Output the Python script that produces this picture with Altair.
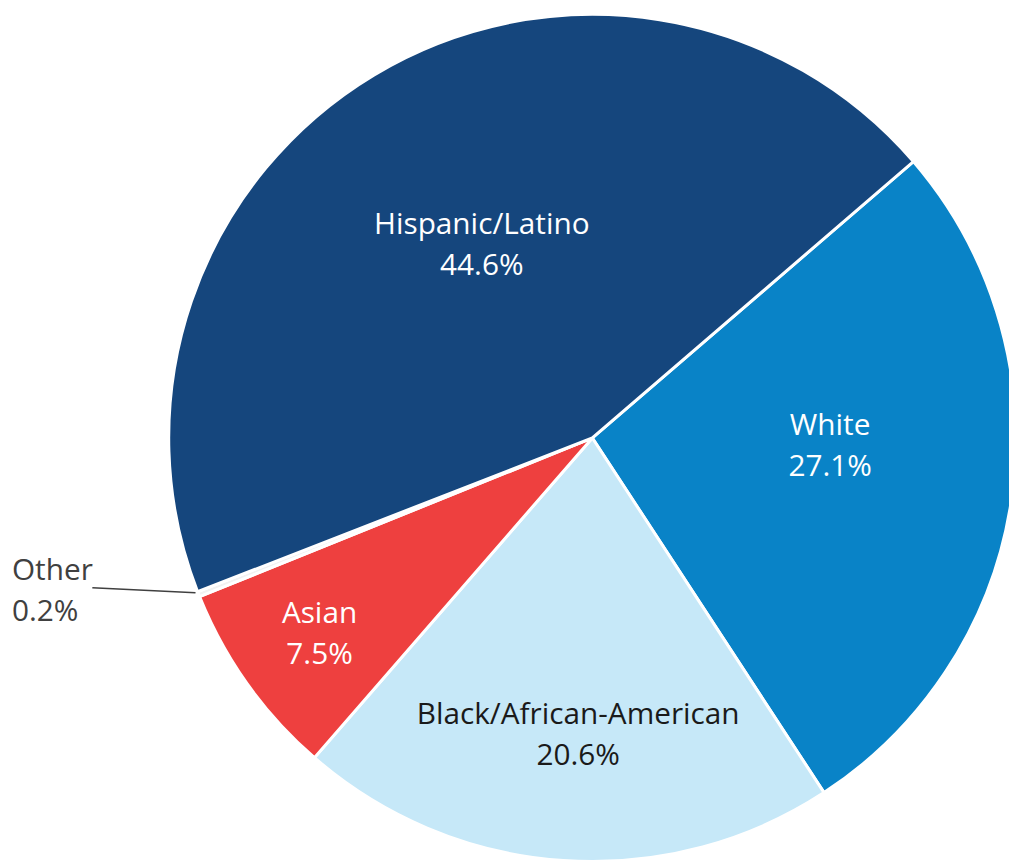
import math
import altair as alt
import pandas as pd

# ---- data ----
categories = ["White", "Black/African-American", "Asian", "Other", "Hispanic/Latino"]
percents = [27.1, 20.6, 7.5, 0.2, 44.6]
slice_colors = ["#0983C7", "#C6E8F8", "#EE403F", "#F2F2F2", "#15467D"]
order = [0, 1, 2, 3, 4]

df = pd.DataFrame({"cat": categories, "pct": percents, "idx": order})
df["label"] = [f"{c}\n{p}%" for c, p in zip(categories, percents)]

W, H = 1009, 854
CX, CY, R = 589, 430, 427
START = math.radians(49.28)
theta_scale = alt.Scale(domain=[0, 100], range=[START, START + 2 * math.pi])

FONT = "Open Sans"
FS = 30
LH = 41

arcs = alt.Chart(df).mark_arc(stroke="white", strokeWidth=3).encode(
    theta=alt.Theta("pct:Q", stack=True, scale=theta_scale),
    order=alt.Order("idx:Q"),
    color=alt.Color("cat:N", scale=alt.Scale(domain=categories, range=slice_colors), legend=None),
    x=alt.value(CX),
    y=alt.value(CY),
    radius=alt.value(R),
)

base = alt.Chart(df).transform_window(
    cum="sum(pct)", sort=[alt.SortField("idx")], frame=[None, 0]
).transform_calculate(mid="datum.cum - datum.pct / 2")

# label placement (radius from centre, nudges, colour)
label_specs = [
    ("Hispanic/Latino", 226, 5, -21, "white"),
    ("White", 236, 6, -45, "white"),
    ("Black/African-American", 297, 6, -17, "#1a1a1a"),
    ("Asian", 339, 1, -19, "white"),
]

layers = [arcs]
for cat, r, dx, dy, fill in label_specs:
    layers.append(
        base.transform_filter(alt.datum.cat == cat)
        .mark_text(
            radius=r, dx=dx, dy=dy, font=FONT, fontSize=FS, lineBreak="\n",
            lineHeight=LH, fill=fill, align="center", baseline="middle",
        )
        .encode(
            theta=alt.Theta("mid:Q", stack=False, scale=theta_scale),
            text="label:N",
            x=alt.value(CX),
            y=alt.value(CY),
        )
    )

# "Other" label outside the pie with a leader line
other_label = base.transform_filter(alt.datum.cat == "Other").mark_text(
    font=FONT, fontSize=FS, lineBreak="\n", lineHeight=LH, fill="#404040",
    align="left", baseline="middle",
).encode(text="label:N", x=alt.value(4), y=alt.value(564))

leader = base.transform_filter(alt.datum.cat == "Other").mark_rule(
    color="#404040", strokeWidth=1.5
).encode(x=alt.value(85), y=alt.value(581), x2=alt.value(189), y2=alt.value(586))

layers += [leader, other_label]

chart = alt.layer(*layers).properties(
    width=W, height=H, autosize=alt.AutoSizeParams(type="none"), padding=0,
    background="white",
).configure_view(stroke=None)

chart.save("out.html", embed_options={"renderer": "svg", "actions": False})
